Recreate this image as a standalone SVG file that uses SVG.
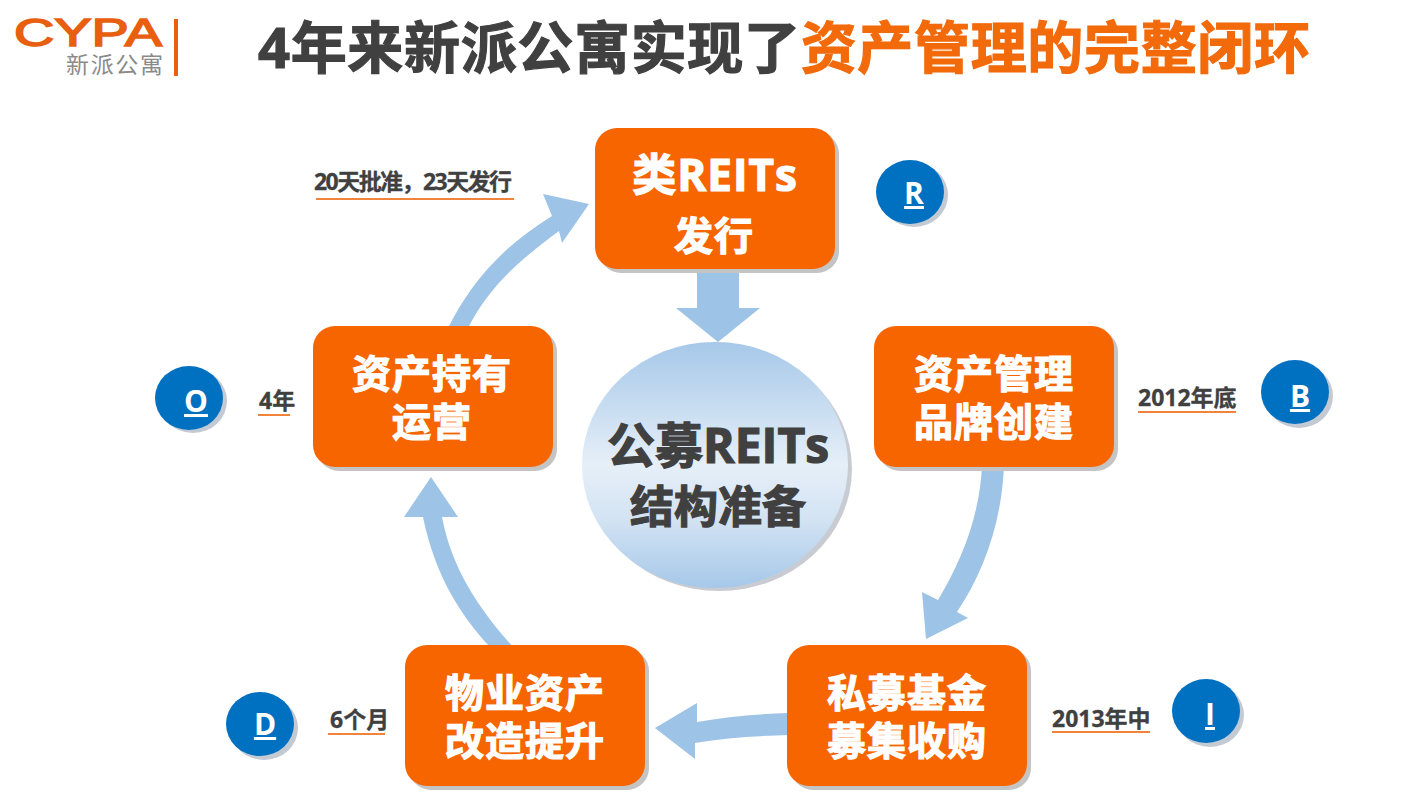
<svg xmlns="http://www.w3.org/2000/svg" width="1401" height="800" viewBox="0 0 1401 800">
<style>
text{font-family:"Open Sans","Noto Sans CJK SC",sans-serif;font-weight:700}
.nt{fill:#fff;font-size:39px;letter-spacing:1px;text-anchor:middle;stroke:#fff;stroke-width:1.2}
.box{fill:#f76500}
.bs{fill:#c4c4c4}
.cs{fill:#c3cad3}
.c{fill:#0070c0}
.l{fill:#fff;font-size:30px;text-anchor:middle;text-decoration:underline}
.lb{fill:#404040;font-size:23px;stroke:#404040;stroke-width:.3}
.ul{stroke:#f0843c;stroke-width:2}
.ar{fill:#9dc3e6}
</style>
<defs>
<linearGradient id="g" x1="0" y1="0" x2="0" y2="1">
<stop offset="0" stop-color="#a6c8e9"/><stop offset="0.5" stop-color="#e6eff8"/><stop offset="0.72" stop-color="#d3e3f3"/><stop offset="1" stop-color="#a6c8e9"/>
</linearGradient>
</defs>
<rect width="1401" height="800" fill="#fff"/>
<g id="logo">
<text x="14" y="46" font-size="38" fill="#e8600f" stroke="#e8600f" stroke-width="1.500" textLength="148" lengthAdjust="spacingAndGlyphs" style="font-weight:400;font-family:'Liberation Sans',sans-serif">CYPA</text>
<text x="66" y="73" font-size="23" fill="#8a8a8a" textLength="97" style="font-weight:400">新派公寓</text>
<rect x="174" y="19" width="4" height="57" fill="#e8600f"/>
</g>
<g id="title">
<text x="258" y="68" font-size="56" fill="#404040" stroke="#404040" stroke-width="1.200" textLength="1052">4年来新派公寓实现了<tspan fill="#f26a0a" stroke="#f26a0a">资产管理的完整闭环</tspan></text>
</g>
<g id="connectors">
<path class="ar" d="M697 268H739V308H760L718 342L676 308H697Z"/>
<path class="ar" d="M448 328C472 280 505 245 552 216L543 194L589 204L562 243L559 231C520 260 490 285 468 328Z"/>
<path class="ar" d="M982 465H1004C1002 520 985 570 957 612L968 618L926 639L922 592L938 600C962 560 980 515 982 465Z"/>
<path class="ar" d="M789 713V735C755 736 725 738 695 743V759L655 728L697 703V722C725 717 755 714 789 713Z"/>
<path class="ar" d="M490 647H513C480 610 452 570 442 517H458L431 477L404 517H423C435 575 460 615 490 647Z"/>
</g>
<g id="center">
<ellipse cx="719" cy="469" rx="133" ry="122" fill="#c8ccd2"/>
<ellipse cx="715" cy="465" rx="133" ry="123" fill="url(#g)"/>
<text x="718" y="463" font-size="48" fill="#404040" text-anchor="middle" stroke="#404040" stroke-width="1.200">公募REITs</text>
<text x="718" y="523" font-size="44" fill="#404040" text-anchor="middle" stroke="#404040" stroke-width="1.200">结构准备</text>
</g>
<g id="node-r">
<rect class="bs" x="599" y="132" width="240" height="141" rx="22"/><rect class="box" x="595" y="128" width="240" height="141" rx="22"/>
<text class="nt" x="715" y="191" style="font-size:44px">类REITs</text>
<text class="nt" x="714" y="250">发行</text>
</g>
<g id="node-o">
<rect class="bs" x="317" y="330" width="240" height="141" rx="22"/><rect class="box" x="313" y="326" width="240" height="141" rx="22"/>
<text class="nt" x="432" y="388">资产持有</text>
<text class="nt" x="432" y="436">运营</text>
</g>
<g id="node-b">
<rect class="bs" x="878" y="330" width="240" height="141" rx="22"/><rect class="box" x="874" y="326" width="240" height="141" rx="22"/>
<text class="nt" x="994" y="388">资产管理</text>
<text class="nt" x="994" y="436">品牌创建</text>
</g>
<g id="node-i">
<rect class="bs" x="791" y="649" width="240" height="141" rx="22"/><rect class="box" x="787" y="645" width="240" height="141" rx="22"/>
<text class="nt" x="907" y="707">私募基金</text>
<text class="nt" x="907" y="755">募集收购</text>
</g>
<g id="node-d">
<rect class="bs" x="409" y="649" width="240" height="141" rx="22"/><rect class="box" x="405" y="645" width="240" height="141" rx="22"/>
<text class="nt" x="525" y="707">物业资产</text>
<text class="nt" x="525" y="755">改造提升</text>
</g>
<g id="badge-r"><ellipse class="cs" cx="914" cy="195" rx="34" ry="32"/><ellipse class="c" cx="910" cy="192" rx="34" ry="32"/><text class="l" x="914" y="204">R</text></g>
<g id="badge-o"><ellipse class="cs" cx="193" cy="401" rx="34" ry="32"/><ellipse class="c" cx="189" cy="398" rx="34" ry="32"/><text class="l" x="196" y="412">O</text></g>
<g id="badge-b"><ellipse class="cs" cx="1299" cy="396" rx="34" ry="32"/><ellipse class="c" cx="1295" cy="392" rx="34" ry="32"/><text class="l" x="1300" y="407">B</text></g>
<g id="badge-i"><ellipse class="cs" cx="1210" cy="715" rx="34" ry="32"/><ellipse class="c" cx="1206" cy="711" rx="34" ry="32"/><text class="l" x="1210" y="725">I</text></g>
<g id="badge-d"><ellipse class="cs" cx="264" cy="728" rx="34" ry="32"/><ellipse class="c" cx="260" cy="724" rx="34" ry="32"/><text class="l" x="265" y="735">D</text></g>
<g id="labels">
<text class="lb" x="314" y="190" textLength="198">20天批准，23天发行</text><line class="ul" x1="316" y1="199" x2="514" y2="199"/>
<text class="lb" x="259" y="409">4年</text><line class="ul" x1="258" y1="415" x2="290" y2="415"/>
<text class="lb" x="1138" y="406">2012年底</text><line class="ul" x1="1138" y1="412" x2="1236" y2="412"/>
<text class="lb" x="1052" y="727">2013年中</text><line class="ul" x1="1052" y1="732" x2="1150" y2="732"/>
<text class="lb" x="330" y="728">6个月</text><line class="ul" x1="328" y1="734" x2="385" y2="734"/>
</g>
</svg>
